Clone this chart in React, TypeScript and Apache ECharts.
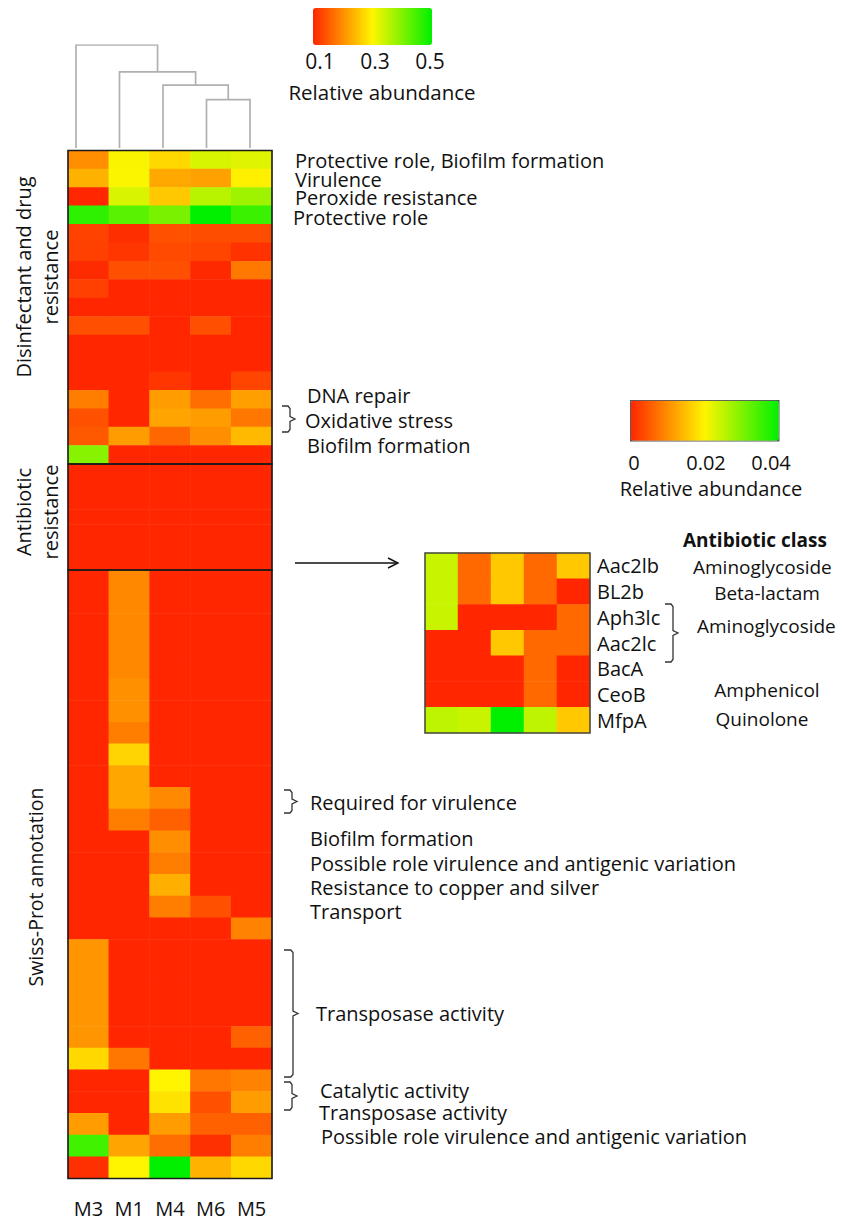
import React, { useEffect, useRef } from "react";
import * as echarts from "echarts";

const FONT = "'Open Sans', 'Noto Sans', sans-serif";

// ---------- data ----------
const samples = ["M3", "M1", "M4", "M6", "M5"];

// Disinfectant and drug resistance genes (rows top -> bottom, columns M3 M1 M4 M6 M5)
const disinfectantValues = [
  [0.2, 0.305, 0.272, 0.331, 0.325],
  [0.234, 0.303, 0.226, 0.219, 0.295],
  [0.1, 0.33, 0.257, 0.356, 0.375],
  [0.465, 0.43, 0.405, 0.5, 0.455],
  [0.127, 0.108, 0.142, 0.138, 0.138],
  [0.125, 0.115, 0.135, 0.13, 0.112],
  [0.105, 0.14, 0.14, 0.103, 0.18],
  [0.125, 0.1, 0.1, 0.1, 0.1],
  [0.1, 0.1, 0.1, 0.1, 0.1],
  [0.14, 0.14, 0.1, 0.14, 0.1],
  [0.1, 0.1, 0.1, 0.1, 0.1],
  [0.1, 0.1, 0.1, 0.1, 0.1],
  [0.1, 0.1, 0.115, 0.1, 0.13],
  [0.185, 0.1, 0.214, 0.17, 0.218],
  [0.142, 0.1, 0.222, 0.214, 0.178],
  [0.149, 0.214, 0.163, 0.2, 0.243],
  [0.393, 0.1, 0.1, 0.1, 0.1],
];

// Antibiotic resistance genes (same genes shown in the inset)
const antibioticGenes = ["Aac2lb", "BL2b", "Aph3lc", "Aac2lc", "BacA", "CeoB", "MfpA"];
const antibioticValues = [
  [0.0243, 0.0065, 0.0157, 0.0065, 0.0157],
  [0.0243, 0.0065, 0.0157, 0.0065, 0.0],
  [0.0243, 0.0, 0.0, 0.0, 0.0065],
  [0.0, 0.0, 0.0157, 0.0065, 0.0065],
  [0.0, 0.0, 0.0, 0.0065, 0.0],
  [0.0, 0.0, 0.0, 0.0065, 0.0],
  [0.025, 0.0243, 0.04, 0.025, 0.0157],
];

// Swiss-Prot annotated genes
const swissProtValues = [
  [0.1, 0.195, 0.1, 0.1, 0.1],
  [0.1, 0.195, 0.1, 0.1, 0.1],
  [0.1, 0.195, 0.1, 0.1, 0.1],
  [0.1, 0.195, 0.1, 0.1, 0.1],
  [0.1, 0.195, 0.1, 0.1, 0.1],
  [0.1, 0.202, 0.1, 0.1, 0.1],
  [0.1, 0.202, 0.1, 0.1, 0.1],
  [0.1, 0.185, 0.1, 0.1, 0.1],
  [0.1, 0.268, 0.1, 0.1, 0.1],
  [0.1, 0.225, 0.1, 0.1, 0.1],
  [0.1, 0.225, 0.196, 0.1, 0.1],
  [0.1, 0.185, 0.156, 0.1, 0.1],
  [0.1, 0.1, 0.2, 0.1, 0.1],
  [0.1, 0.1, 0.185, 0.1, 0.1],
  [0.1, 0.1, 0.232, 0.1, 0.1],
  [0.1, 0.1, 0.185, 0.142, 0.1],
  [0.1, 0.1, 0.1, 0.1, 0.19],
  [0.207, 0.1, 0.1, 0.1, 0.1],
  [0.207, 0.1, 0.1, 0.1, 0.1],
  [0.207, 0.1, 0.1, 0.1, 0.1],
  [0.207, 0.1, 0.1, 0.1, 0.1],
  [0.207, 0.1, 0.1, 0.1, 0.156],
  [0.272, 0.178, 0.1, 0.1, 0.1],
  [0.1, 0.1, 0.3, 0.178, 0.19],
  [0.1, 0.1, 0.283, 0.142, 0.214],
  [0.214, 0.1, 0.214, 0.156, 0.156],
  [0.45, 0.222, 0.17, 0.11, 0.185],
  [0.11, 0.3, 0.5, 0.236, 0.272],
];

const mainScaleTicks = [0.1, 0.3, 0.5];
const insetScaleTicks = [0, 0.02, 0.04];

// hierarchical clustering of samples: [nodeA, nodeB, height] (nodes >= 5 are merged clusters)
const dendroLinkage = [
  [3, 4, 0.47],
  [2, 5, 0.61],
  [1, 6, 0.74],
  [0, 7, 1.0],
];

// ---------- helpers ----------
const toCells = (rows: number[][]) =>
  rows.flatMap((row, r) => row.map((v, c) => [c, r, v]));
const rowIds = (prefix: string, n: number) =>
  Array.from({ length: n }, (_, i) => `${prefix}${i + 1}`);

function buildDendro() {
  const nodes = samples.map((_, i) => ({ x: i, h: 0 }));
  return dendroLinkage.map(([a, b, h]) => {
    const A = nodes[a];
    const B = nodes[b];
    nodes.push({ x: (A.x + B.x) / 2, h });
    return { coords: [[A.x, A.h], [A.x, h], [B.x, h], [B.x, B.h]] };
  });
}

const txt = (x: number, y: number, text: string, o: any = {}) => ({
  type: "text",
  x,
  y,
  z: 60,
  silent: true,
  rotation: o.rot || 0,
  style: {
    text,
    fill: "#111",
    fontFamily: FONT,
    fontSize: o.size || 20,
    fontWeight: o.weight || "normal",
    textAlign: o.align || "left",
    align: o.align || "left",
    textVerticalAlign: "middle",
    verticalAlign: "middle",
  },
});

const brace = (x: number, y1: number, y2: number, w = 8) => {
  const m = (y1 + y2) / 2;
  return {
    type: "polyline",
    z: 60,
    silent: true,
    shape: {
      points: [
        [x, y1], [x + w * 0.75, y1], [x + w, y1 + 2.5], [x + w, m - 2.5],
        [x + w + 5, m], [x + w, m + 2.5], [x + w, y2 - 2.5], [x + w * 0.75, y2], [x, y2],
      ],
    },
    style: { stroke: "#333", lineWidth: 1.3, fill: null },
  };
};

const outline = (x: number, y: number, w: number, h: number, color = "#1a1a1a", lw = 1.6) => ({
  type: "rect",
  z: 70,
  silent: true,
  shape: { x, y, width: w, height: h },
  style: { fill: null, stroke: color, lineWidth: lw },
});

// ---------- layout ----------
const HM_LEFT = 68;
const HM_W = 204;
const SECTIONS = [
  { top: 150.5, height: 313.5 },
  { top: 464, height: 106 },
  { top: 570, height: 608.5 },
];
const INSET = { left: 425, top: 553, width: 165, height: 180 };
const DENDRO = { left: 76, top: 45, width: 174, height: 103 };

export default function App() {
  const ref = useRef<HTMLDivElement>(null);

  useEffect(() => {
    if (!ref.current) return;
    const chart = echarts.init(ref.current, undefined, { renderer: "svg" });

    const gridBase = { containLabel: false, outerBoundsMode: "none", show: false };
    const grids = [
      ...SECTIONS.map((s) => ({ ...gridBase, left: HM_LEFT, top: s.top, width: HM_W, height: s.height })),
      { ...gridBase, ...INSET },
      { ...gridBase, ...DENDRO },
    ];

    const hiddenCat = (data: string[], gi: number) => ({
      type: "category",
      data,
      gridIndex: gi,
      show: false,
    });

    const xAxes: any[] = [
      hiddenCat(samples, 0),
      hiddenCat(samples, 1),
      {
        type: "category",
        data: samples,
        gridIndex: 2,
        position: "bottom",
        axisLine: { show: false },
        axisTick: { show: false },
        axisLabel: {
          interval: 0,
          hideOverlap: false,
          fontSize: 20,
          fontFamily: FONT,
          color: "#111",
          margin: 20,
        },
      },
      hiddenCat(samples, 3),
      { type: "value", gridIndex: 4, min: 0, max: samples.length - 1, show: false },
    ];
    const yAxes: any[] = [
      { ...hiddenCat(rowIds("D", disinfectantValues.length), 0), inverse: true },
      { ...hiddenCat(antibioticGenes, 1), inverse: true },
      { ...hiddenCat(rowIds("S", swissProtValues.length), 2), inverse: true },
      {
        type: "category",
        data: antibioticGenes,
        gridIndex: 3,
        inverse: true,
        position: "right",
        axisLine: { show: false },
        axisTick: { show: false },
        axisLabel: {
          interval: 0,
          hideOverlap: false,
          fontSize: 20,
          fontFamily: FONT,
          color: "#111",
          margin: 7,
        },
      },
      { type: "value", gridIndex: 4, min: 0, max: 1, show: false },
    ];

    const heat = (data: number[][], i: number) => ({
      type: "heatmap",
      xAxisIndex: i,
      yAxisIndex: i,
      data: toCells(data),
      silent: true,
      itemStyle: { borderWidth: 0 },
    });

    const graphic: any[] = [
      // heatmap outlines / section separators
      ...SECTIONS.map((s) => outline(HM_LEFT, s.top, HM_W, s.height)),
      outline(INSET.left, INSET.top, INSET.width, INSET.height, "#444", 1.5),
      // main colour scale labels
      ...mainScaleTicks.map((t, i) => txt([320, 375, 430][i], 61, String(t), { size: 21, align: "center" })),
      txt(382, 92, "Relative abundance", { size: 20.5, align: "center" }),
      // inset colour scale labels
      ...insetScaleTicks.map((t, i) => txt([634, 706, 771][i], 462, String(t), { size: 20, align: "center" })),
      txt(711, 488, "Relative abundance", { size: 20, align: "center" }),
      // section titles (rotated)
      txt(23, 277, "Disinfectant and drug", { align: "center", rot: Math.PI / 2 }),
      txt(50, 277, "resistance", { align: "center", rot: Math.PI / 2 }),
      txt(23, 512, "Antibiotic", { align: "center", rot: Math.PI / 2 }),
      txt(50, 512, "resistance", { align: "center", rot: Math.PI / 2 }),
      txt(35, 887, "Swiss-Prot annotation", { size: 19.5, align: "center", rot: Math.PI / 2 }),
      // disinfectant annotations
      txt(295, 160, "Protective role, Biofilm formation"),
      txt(295, 179, "Virulence"),
      txt(295, 197, "Peroxide resistance"),
      txt(293, 217, "Protective role"),
      txt(307, 395, "DNA repair"),
      brace(282, 406, 432),
      txt(305, 420, "Oxidative stress"),
      txt(307, 445, "Biofilm formation"),
      // arrow to inset
      {
        type: "line", z: 60, silent: true,
        shape: { x1: 295, y1: 563, x2: 397, y2: 563 },
        style: { stroke: "#111", lineWidth: 1.4 },
      },
      {
        type: "polyline", z: 60, silent: true,
        shape: { points: [[388, 558], [398, 563], [388, 568]] },
        style: { stroke: "#111", lineWidth: 1.4, fill: null },
      },
      // inset classes
      txt(683, 540, "Antibiotic class", { weight: "bold", size: 19 }),
      txt(693, 567, "Aminoglycoside", { size: 19 }),
      txt(767, 593, "Beta-lactam", { align: "center", size: 19 }),
      brace(665, 604, 662, 8),
      txt(697, 626, "Aminoglycoside", { size: 19 }),
      txt(767, 690, "Amphenicol", { align: "center", size: 19 }),
      txt(762, 719, "Quinolone", { align: "center", size: 19 }),
      // Swiss-Prot annotations
      brace(284, 790, 813),
      txt(310, 802, "Required for virulence"),
      txt(310, 838, "Biofilm formation"),
      txt(310, 863, "Possible role virulence and antigenic variation"),
      txt(310, 887, "Resistance to copper and silver"),
      txt(310, 911, "Transport"),
      brace(284, 950, 1077, 9),
      txt(316, 1013, "Transposase activity"),
      brace(284, 1082, 1110),
      txt(320, 1090, "Catalytic activity"),
      txt(319, 1112, "Transposase activity"),
      txt(321, 1136, "Possible role virulence and antigenic variation"),
    ];

    chart.setOption({
      animation: false,
      backgroundColor: "#fff",
      textStyle: { fontFamily: FONT },
      grid: grids,
      xAxis: xAxes,
      yAxis: yAxes,
      visualMap: [
        {
          type: "continuous",
          min: 0.1,
          max: 0.5,
          seriesIndex: [0, 1, 2],
          orient: "horizontal",
          left: 313,
          top: 8,
          itemWidth: 37,
          itemHeight: 119,
          padding: 0,
          calculable: false,
          hoverLink: false,
          text: null,
          inRange: { color: ["#ff2600", "#fff500", "#00f000"] },
        },
        {
          type: "continuous",
          min: 0,
          max: 0.04,
          seriesIndex: [3],
          orient: "horizontal",
          left: 630,
          top: 400,
          itemWidth: 40,
          itemHeight: 148,
          padding: 0,
          calculable: false,
          hoverLink: false,
          text: null,
          borderColor: "#555",
          borderWidth: 1.5,
          inRange: { color: ["#ff2600", "#fff500", "#00f000"] },
        },
      ],
      series: [
        heat(disinfectantValues, 0),
        heat(antibioticValues, 1),
        heat(swissProtValues, 2),
        heat(antibioticValues, 3),
        {
          type: "lines",
          coordinateSystem: "cartesian2d",
          xAxisIndex: 4,
          yAxisIndex: 4,
          polyline: true,
          silent: true,
          data: buildDendro(),
          lineStyle: { color: "#b0b0b0", width: 1.7, opacity: 1 },
        },
      ],
      graphic,
    });

    return () => chart.dispose();
  }, []);

  return (
    <div
      ref={ref}
      style={{ position: "absolute", left: 0, top: 0, width: 844, height: 1222, background: "#fff" }}
    />
  );
}
